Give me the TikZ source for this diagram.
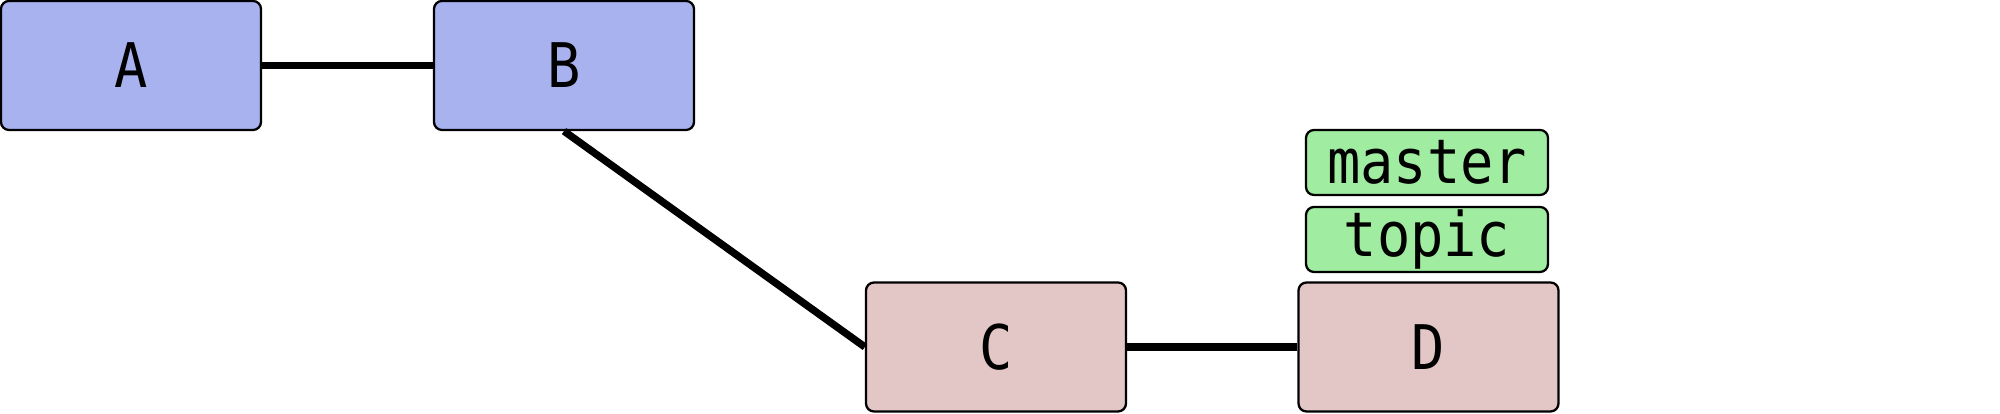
\documentclass[tikz,border=0pt]{standalone}
\usepackage{fontspec}
\setmonofont[FakeStretch=0.9]{DejaVu Sans Mono}
\definecolor{commitblue}{RGB}{168,178,238}
\definecolor{commitpink}{RGB}{227,198,198}
\definecolor{branchgreen}{RGB}{160,236,160}
\tikzset{
  commit/.style={draw,line width=0.65pt,rounded corners=0.08cm,minimum width=2.6cm,minimum height=1.29cm,inner sep=0pt,font=\ttfamily\fontsize{17.5}{20}\selectfont},
  oldcommit/.style={commit,fill=commitblue},
  newcommit/.style={commit,fill=commitpink},
  branchref/.style={draw,line width=0.65pt,rounded corners=0.08cm,minimum width=2.42cm,minimum height=0.65cm,inner sep=0pt,fill=branchgreen,font=\ttfamily\fontsize{17.5}{20}\selectfont},
  history/.style={line width=2.1pt}
}
\begin{document}
\begin{tikzpicture}
            \useasboundingbox (0,0) rectangle (20,4.14);
            \node[oldcommit] (A) at (1.31,3.485) {A};
            \node[oldcommit] (B) at (5.64,3.485) {B};
            \node[newcommit] (C) at (9.96,0.67) {C};
            \node[newcommit] (D) at (14.285,0.67) {D};
            \node[branchref] (master) at (14.27,2.515) {master};
            \node[branchref] (topic) at (14.27,1.745) {topic};
            \draw[history] (A) -- (B);
            \draw[history] (B.south) -- (C.west);
            \draw[history] (C) -- (D);
        \end{tikzpicture}
\end{document}
